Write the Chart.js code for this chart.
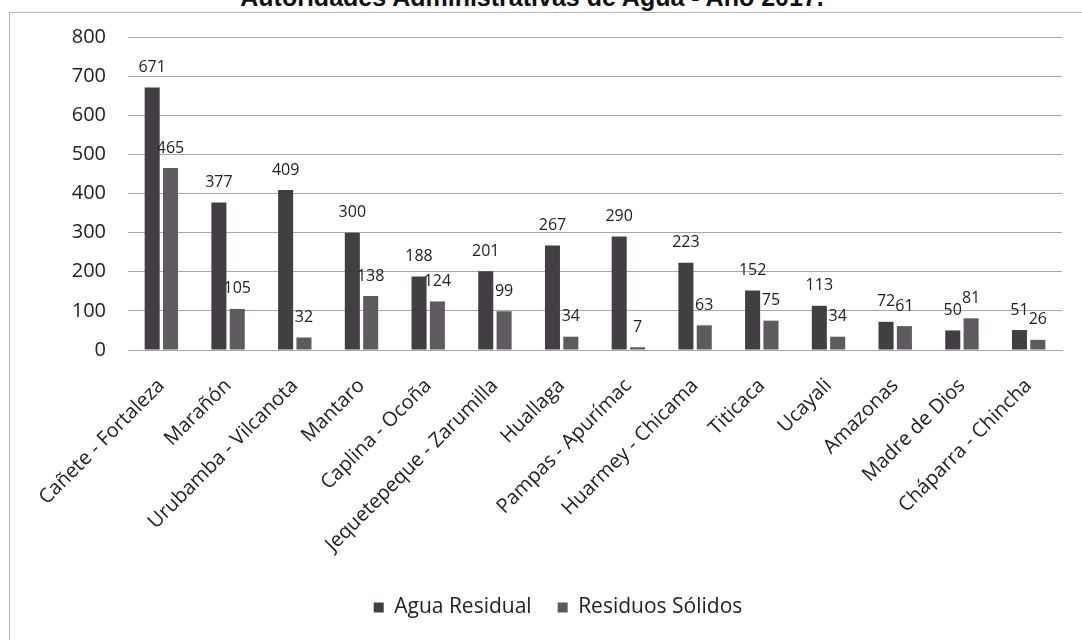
<!DOCTYPE html>
<html><head><meta charset="utf-8">
<script src="https://cdn.jsdelivr.net/npm/chart.js@4.4.0/dist/chart.umd.min.js"></script>
<style>
html,body{margin:0;padding:0;background:#fff;}
#wrap{position:relative;width:1082px;height:640px;overflow:hidden;background:#fff;}
#frame{position:absolute;left:9px;top:12px;right:-5px;bottom:-5px;border-top:1px solid #b5b5b5;border-left:1px solid #b5b5b5;}
#title{position:absolute;left:-9px;width:1082px;top:-15px;text-align:center;font:bold 25px "Liberation Sans",Arial,sans-serif;line-height:25px;color:#111;white-space:nowrap;}
canvas{position:absolute;left:0;top:0;}
</style></head>
<body><div id="wrap"><div id="frame"></div><div id="title">Autoridades Administrativas de Agua - Año 2017.</div><canvas id="c" width="1082" height="640"></canvas></div>
<script>
const categories = ["Cañete - Fortaleza","Marañón","Urubamba - Vilcanota","Mantaro","Caplina - Ocoña","Jequetepeque - Zarumilla","Huallaga","Pampas - Apurímac","Huarmey - Chicama","Titicaca","Ucayali","Amazonas","Madre de Dios","Cháparra - Chincha"];
const aguaResidual = [671,377,409,300,188,201,267,290,223,152,113,72,50,51];
const residuosSolidos = [465,105,32,138,124,99,34,7,63,75,34,61,81,26];
const seriesNames = ["Agua Residual","Residuos Sólidos"];
const yMin = 0, yMax = 800, yStep = 100;

const FONT = '"Open Sans", "Noto Sans", sans-serif';
const TXT = '#222';

const valueLabels = {
  id: 'valueLabels',
  afterDatasetsDraw(chart) {
    const ctx = chart.ctx;
    ctx.save();
    ctx.font = '16px ' + FONT;
    ctx.fillStyle = TXT;
    ctx.textAlign = 'center';
    ctx.textBaseline = 'middle';
    chart.data.datasets.forEach((ds, i) => {
      const meta = chart.getDatasetMeta(i);
      meta.data.forEach((el, j) => {
        ctx.fillText(String(ds.data[j]), el.x, el.y - 20);
      });
    });
    ctx.restore();
  }
};

const legendShift = {
  id: 'legendShift',
  afterLayout(chart) {
    if (chart.legend) { chart.legend.left += 27; chart.legend.right += 27; }
  }
};

new Chart(document.getElementById('c'), {
  type: 'bar',
  data: {
    labels: categories,
    datasets: [
      { label: seriesNames[0], data: aguaResidual, backgroundColor: '#433d44', categoryPercentage: 0.55, barPercentage: 0.82 },
      { label: seriesNames[1], data: residuosSolidos, backgroundColor: '#5f5960', categoryPercentage: 0.55, barPercentage: 0.82 }
    ]
  },
  options: {
    responsive: false,
    animation: false,
    devicePixelRatio: 1,
    layout: { padding: { left: 0, right: 20, top: 37, bottom: 12 } },
    scales: {
      y: {
        min: yMin, max: yMax,
        ticks: { stepSize: yStep, font: { size: 20, family: FONT }, color: TXT, padding: 22 },
        grid: { color: '#a8a8a8', lineWidth: 1, drawTicks: false },
        border: { display: false },
        afterFit(s) { s.width = 128; }
      },
      x: {
        ticks: { font: { size: 20, family: FONT }, color: TXT, maxRotation: 45, minRotation: 45, autoSkip: false, padding: 16 },
        grid: { display: false },
        border: { display: true, color: '#a8a8a8' },
        afterFit(s) { s.height = 221; }
      }
    },
    plugins: {
      legend: {
        position: 'bottom',
        labels: { boxWidth: 10, boxHeight: 10, font: { size: 21, family: FONT }, color: TXT, padding: 26 }
      },
      tooltip: { enabled: false }
    }
  },
  plugins: [valueLabels, legendShift]
});
</script>
</body></html>
